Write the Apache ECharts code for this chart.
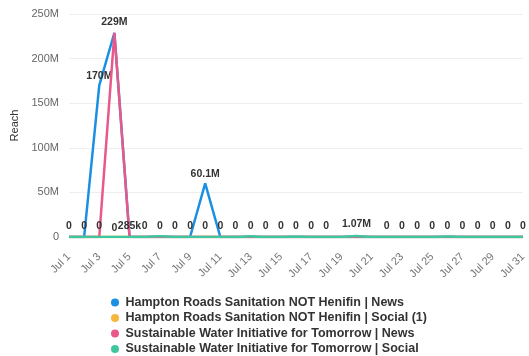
<!DOCTYPE html>
<html>
<head>
<meta charset="utf-8">
<script src="https://cdn.jsdelivr.net/npm/echarts@6/dist/echarts.min.js"></script>
<style>html,body{margin:0;padding:0;background:#fff;}#c{width:529px;height:356px;}</style>
</head>
<body>
<div id="c"></div>
<script>
const days = ['Jul 1','Jul 2','Jul 3','Jul 4','Jul 5','Jul 6','Jul 7','Jul 8','Jul 9','Jul 10','Jul 11','Jul 12','Jul 13','Jul 14','Jul 15','Jul 16','Jul 17','Jul 18','Jul 19','Jul 20','Jul 21','Jul 22','Jul 23','Jul 24','Jul 25','Jul 26','Jul 27','Jul 28','Jul 29','Jul 30','Jul 31'];
const seriesNames = [
  'Hampton Roads Sanitation NOT Henifin | News',
  'Hampton Roads Sanitation NOT Henifin | Social (1)',
  'Sustainable Water Initiative for Tomorrow | News',
  'Sustainable Water Initiative for Tomorrow | Social'
];
const hamptonNews   = [0,0,170e6,229e6,0,0,0,0,0,60.1e6,0,0,0,0,0,0,0,0,0,0,0,0,0,0,0,0,0,0,0,0,0];
const hamptonSocial = [0,0,0,0,0,0,0,0,0,0,0,0,0,0,0,0,0,0,0,0,0,0,0,0,0,0,0,0,0,0,0];
const swiftNews     = [0,0,0,229e6,285e3,0,0,0,0,0,0,0,0,0,0,0,0,0,0,0,0,0,0,0,0,0,0,0,0,0,0];
const swiftSocial   = [0,0,0,0,0,0,0.95e6,0,0,0,0,0,0.8e6,0,0,0.4e6,0,0,0,1.07e6,0,0,0,0,0,0.45e6,0,0,0,0,0];
const yTicks = [0,50e6,100e6,150e6,200e6,250e6];
const colors = ['#1b8fe2','#f6b73c','#e8588a','#3ec6a0'];

function fmt(v){
  if (v === 0) return '0';
  if (v >= 1e6) return (+(v/1e6).toPrecision(3)) + 'M';
  if (v >= 1e3) return (+(v/1e3).toPrecision(3)) + 'k';
  return String(v);
}

const allData = [hamptonNews, hamptonSocial, swiftNews, swiftSocial];
// label priority (hidden symbol size): green peak first, then pink, blue, yellow
const prio = [4, 2, 6, 8];
const series = allData.map((arr, si) => {
  const peak = Math.max(...arr);
  const isPeakOnly = si === 3;
  return {
    name: seriesNames[si],
    type: 'line',
    smooth: si === 3,
    showSymbol: true,
    showAllSymbol: true,
    symbol: 'circle',
    symbolSize: function(v){ return isPeakOnly ? (v === peak ? prio[si] : 0) : prio[si]; },
    itemStyle: { color: 'rgba(0,0,0,0)', borderWidth: 0 },
    lineStyle: { color: colors[si], width: 2.5 },
    z: 2 + si,
    data: arr.map(v => ({ value: v, label: { show: isPeakOnly ? v === peak : true } })),
    label: {
      show: true, position: 'top', distance: 2,
      fontSize: 10.5, fontWeight: 'bold', color: '#333',
      fontFamily: 'Liberation Sans, Arial, sans-serif',
      formatter: p => fmt(p.value)
    },
    labelLayout: { hideOverlap: true },
    emphasis: { disabled: true }
  };
});

const chart = echarts.init(document.getElementById('c'), null, { renderer: 'canvas' });
chart.setOption({
  animation: false,
  grid: { left: 69, right: 5, top: 14, bottom: 119, containLabel: false },
  xAxis: {
    type: 'category',
    data: days,
    boundaryGap: false,
    axisLine: { show: true, lineStyle: { color: '#ddd' } },
    axisTick: { show: false },
    axisLabel: {
      interval: 1, rotate: 45, margin: 18,
      fontSize: 11, color: '#777',
      fontFamily: 'Liberation Sans, Arial, sans-serif'
    }
  },
  yAxis: {
    type: 'value',
    min: yTicks[0], max: yTicks[yTicks.length - 1], interval: yTicks[1] - yTicks[0],
    name: 'Reach', nameLocation: 'middle', nameGap: 46,
    nameTextStyle: { fontSize: 11, color: '#333', fontFamily: 'Liberation Sans, Arial, sans-serif' },
    axisLine: { show: false }, axisTick: { show: false },
    splitLine: { lineStyle: { color: '#eee' } },
    axisLabel: {
      fontSize: 11, color: '#666', margin: 10,
      fontFamily: 'Liberation Sans, Arial, sans-serif',
      formatter: v => v === 0 ? '0' : (v / 1e6) + 'M'
    }
  },
  legend: {
    orient: 'vertical', left: 111, top: 295, padding: 0, height: 80,
    icon: 'circle', itemWidth: 11, itemHeight: 8, itemGap: 0.5,
    selectedMode: false,
    data: seriesNames.map((n, i) => ({ name: n, itemStyle: { color: colors[i], opacity: 1, borderWidth: 0 } })),
    textStyle: { fontSize: 12.5, fontWeight: 'bold', color: '#333', lineHeight: 15, fontFamily: 'Liberation Sans, Arial, sans-serif' }
  },
  series: series
});
</script>
</body>
</html>
